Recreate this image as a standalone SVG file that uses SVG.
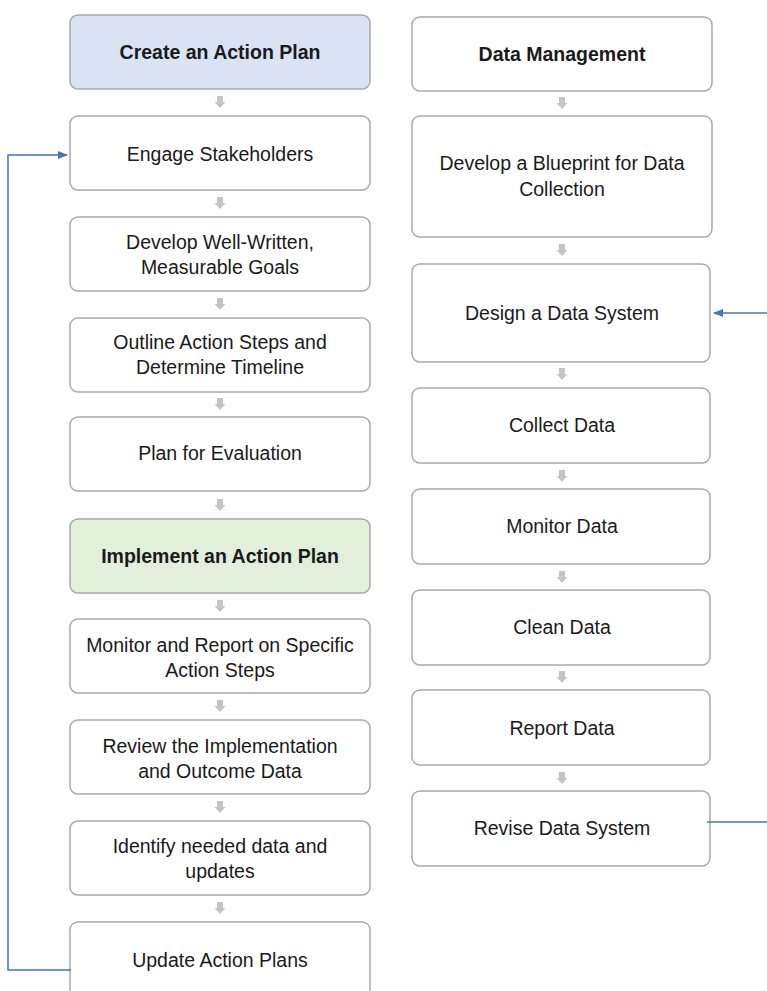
<svg xmlns="http://www.w3.org/2000/svg" width="767" height="991" viewBox="0 0 767 991">
<style>
.box{fill:#ffffff;stroke:#a9a9a9;stroke-width:1.5}
.blue{fill:#dae3f3}
.green{fill:#e2efda}
text{font-family:"Liberation Sans",Arial,sans-serif;font-size:19.5px;fill:#1a1a1a;text-anchor:middle}
.b{font-weight:bold}
.link{fill:none;stroke:#4472c4;stroke-width:1.5}
.step{fill:#c4c4c4}
</style>
<defs>
<path id="dn" d="M-3,0 h6 v6 h2.5 l-5.5,6 l-5.5,-6 h2.5 z"/>
<marker id="ah" markerWidth="10" markerHeight="8" refX="9" refY="4" orient="auto" markerUnits="userSpaceOnUse">
<path d="M0,0 L10,4 L0,8 z" fill="#4472c4"/>
</marker>
</defs>
<rect width="767" height="991" fill="#ffffff"/>

<g id="n1"><rect class="box blue" x="70" y="15" width="300" height="74" rx="8"/><text class="b" x="220" y="59">Create an Action Plan</text></g>
<g id="n2"><rect class="box" x="70" y="116" width="300" height="74" rx="8"/><text x="220" y="161">Engage Stakeholders</text></g>
<g id="n3"><rect class="box" x="70" y="217" width="300" height="74" rx="8"/><text x="220" y="249">Develop Well-Written,</text><text x="220" y="274">Measurable Goals</text></g>
<g id="n4"><rect class="box" x="70" y="318" width="300" height="74" rx="8"/><text x="220" y="349">Outline Action Steps and</text><text x="220" y="374">Determine Timeline</text></g>
<g id="n5"><rect class="box" x="70" y="417" width="300" height="74" rx="8"/><text x="220" y="460">Plan for Evaluation</text></g>
<g id="n6"><rect class="box green" x="70" y="519" width="300" height="74" rx="8"/><text class="b" x="220" y="563">Implement an Action Plan</text></g>
<g id="n7"><rect class="box" x="70" y="619" width="300" height="74" rx="8"/><text x="220" y="652">Monitor and Report on Specific</text><text x="220" y="677">Action Steps</text></g>
<g id="n8"><rect class="box" x="70" y="720" width="300" height="74" rx="8"/><text x="220" y="753">Review the Implementation</text><text x="220" y="778">and Outcome Data</text></g>
<g id="n9"><rect class="box" x="70" y="821" width="300" height="74" rx="8"/><text x="220" y="853">Identify needed data and</text><text x="220" y="878">updates</text></g>
<g id="n10"><rect class="box" x="70" y="922" width="300" height="80" rx="8"/><text x="220" y="967">Update Action Plans</text></g>

<g id="r1"><rect class="box" x="412" y="17" width="300" height="74" rx="8"/><text class="b" x="562" y="61">Data Management</text></g>
<g id="r2"><rect class="box" x="412" y="116" width="300" height="121" rx="8"/><text x="562" y="170">Develop a Blueprint for Data</text><text x="562" y="196">Collection</text></g>
<g id="r3"><rect class="box" x="412" y="264" width="298" height="98" rx="8"/><text x="562" y="320">Design a Data System</text></g>
<g id="r4"><rect class="box" x="412" y="388" width="298" height="75" rx="8"/><text x="562" y="432">Collect Data</text></g>
<g id="r5"><rect class="box" x="412" y="489" width="298" height="75" rx="8"/><text x="562" y="533">Monitor Data</text></g>
<g id="r6"><rect class="box" x="412" y="590" width="298" height="75" rx="8"/><text x="562" y="634">Clean Data</text></g>
<g id="r7"><rect class="box" x="412" y="690" width="298" height="75" rx="8"/><text x="562" y="735">Report Data</text></g>
<g id="r8"><rect class="box" x="412" y="791" width="298" height="75" rx="8"/><text x="562" y="835">Revise Data System</text></g>

<g id="connectors">
<use href="#dn" class="step" x="220" y="96"/>
<use href="#dn" class="step" x="220" y="197"/>
<use href="#dn" class="step" x="220" y="298"/>
<use href="#dn" class="step" x="220" y="398"/>
<use href="#dn" class="step" x="220" y="499"/>
<use href="#dn" class="step" x="220" y="600"/>
<use href="#dn" class="step" x="220" y="700"/>
<use href="#dn" class="step" x="220" y="801"/>
<use href="#dn" class="step" x="220" y="902"/>
<use href="#dn" class="step" x="562" y="97"/>
<use href="#dn" class="step" x="562" y="244"/>
<use href="#dn" class="step" x="562" y="368"/>
<use href="#dn" class="step" x="562" y="470"/>
<use href="#dn" class="step" x="562" y="571"/>
<use href="#dn" class="step" x="562" y="671"/>
<use href="#dn" class="step" x="562" y="772"/>
<path class="link" d="M71,970 H8 V155 H67" marker-end="url(#ah)"/>
<path class="link" d="M767,313 H714" marker-end="url(#ah)"/>
<path class="link" d="M707,822 H767"/>
</g>
</svg>
